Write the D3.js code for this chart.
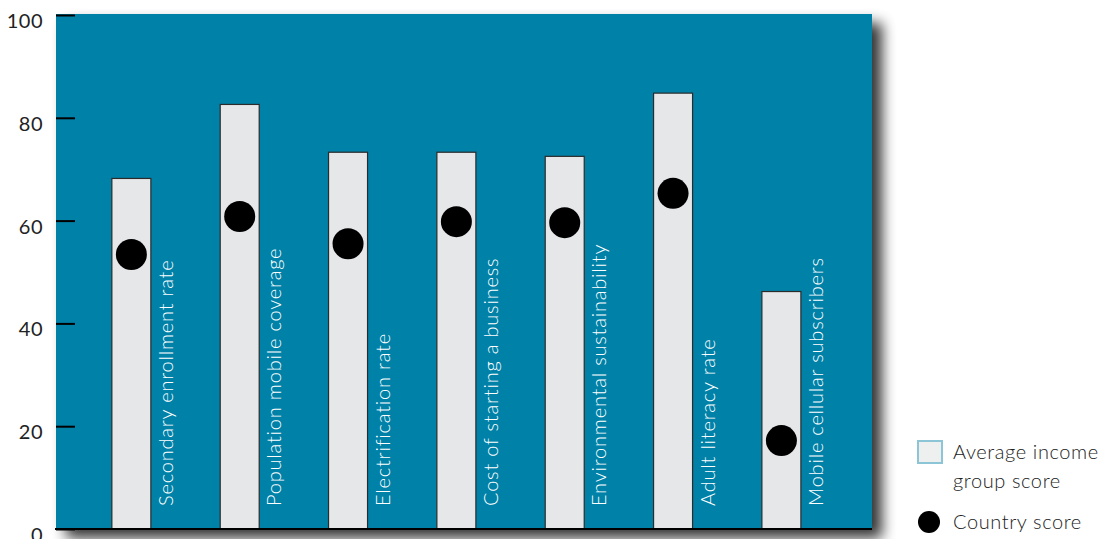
<!DOCTYPE html>
<html>
<head>
<meta charset="utf-8">
<script src="https://cdn.jsdelivr.net/npm/d3@7"></script>
<style>
  body { margin: 0; background: #fff; }
  svg { display: block; font-family: Lato, "Open Sans", sans-serif; }
</style>
</head>
<body>
<svg id="chart" width="1103" height="539"></svg>
<script>
// indicators
const categories = [
    "Secondary enrollment rate",
    "Population mobile coverage",
    "Electrification rate",
    "Cost of starting a business",
    "Environmental sustainability",
    "Adult literacy rate",
    "Mobile cellular subscribers"
];
const averageScores = [68.2, 82.6, 73.3, 73.3, 72.5, 84.8, 46.2];
const countryScores = [53.4, 60.8, 55.5, 59.8, 59.6, 65.3, 17.2];
const yTicks = [0, 20, 40, 60, 80, 100];

const svg = d3.select("#chart");
const plotLeft = 56, plotRight = 872, plotTop = 15, plotBottom = 529;

const y = d3.scaleLinear().domain([0, 100]).range([plotBottom, plotTop]);
const x = d3.scaleBand()
    .domain(categories)
    .range([plotLeft, plotRight])
    .paddingInner(0.64)
    .paddingOuter(0.586)
    .align(0.44);

const defs = svg.append("defs");
const shadow = defs.append("filter").attr("id", "shadow")
    .attr("x", "-5%").attr("y", "-5%").attr("width", "115%").attr("height", "115%");
shadow.append("feGaussianBlur").attr("in", "SourceAlpha").attr("stdDeviation", 7);
shadow.append("feOffset").attr("dx", 10).attr("dy", 9).attr("result", "off");
shadow.append("feComponentTransfer").append("feFuncA").attr("type", "linear").attr("slope", 0.8);
const merge = shadow.append("feMerge");
merge.append("feMergeNode");
merge.append("feMergeNode").attr("in", "SourceGraphic");

// blue panel
svg.append("rect")
    .attr("x", plotLeft).attr("y", plotTop - 1)
    .attr("width", plotRight - plotLeft).attr("height", plotBottom - plotTop + 1)
    .attr("fill", "#0081a7")
    .attr("filter", "url(#shadow)");

// y axis, ticks pointing into the panel
const yAxis = d3.axisLeft(y).tickValues(yTicks).tickSize(-19).tickPadding(13);
const gy = svg.append("g")
    .attr("transform", `translate(${plotLeft},0)`)
    .call(yAxis)
    .attr("font-family", "Lato, 'Open Sans', sans-serif")
    .attr("font-size", 20);
gy.select(".domain").remove();
gy.selectAll(".tick line").attr("stroke", "#000").attr("stroke-width", 2);
// labels sit a little below their tick in the original
gy.selectAll(".tick text")
    .attr("fill", "#222")
    .attr("dy", "0.62em")
    .style("letter-spacing", "0.5px");

// bars
svg.append("g").selectAll("rect")
    .data(categories)
    .join("rect")
    .attr("x", d => x(d))
    .attr("y", (d, i) => y(averageScores[i]))
    .attr("width", x.bandwidth())
    .attr("height", (d, i) => y(0) - y(averageScores[i]))
    .attr("fill", "#e6e7e9")
    .attr("stroke", "#2b2b2b")
    .attr("stroke-width", 1.2);

// labels beside each bar
svg.append("g").selectAll("text")
    .data(categories)
    .join("text")
    .attr("transform", d => `translate(${x(d) + x.bandwidth() + 22},${plotBottom - 23}) rotate(-90)`)
    .attr("fill", "#fff")
    .style("font-size", "20px")
    .style("font-weight", 300)
    .style("letter-spacing", "0.8px")
    .text(d => d);

// country dots
svg.append("g").selectAll("circle")
    .data(categories)
    .join("circle")
    .attr("cx", d => x(d) + x.bandwidth() / 2)
    .attr("cy", (d, i) => y(countryScores[i]))
    .attr("r", 15.5)
    .attr("fill", "#000");

// baseline
svg.append("line")
    .attr("x1", plotLeft - 1).attr("x2", plotRight)
    .attr("y1", plotBottom).attr("y2", plotBottom)
    .attr("stroke", "#000").attr("stroke-width", 2);

// legend
const legend = svg.append("g")
    .style("font-size", "20px")
    .style("font-weight", 300)
    .style("letter-spacing", "0.6px")
    .attr("fill", "#222");
legend.append("rect")
    .attr("x", 918).attr("y", 441)
    .attr("width", 24).attr("height", 22)
    .attr("fill", "#eef0f0")
    .attr("stroke", "#8cc6d6").attr("stroke-width", 2);
legend.append("text").attr("x", 953).attr("y", 459).text("Average income");
legend.append("text").attr("x", 953).attr("y", 488).text("group score");
legend.append("circle").attr("cx", 929).attr("cy", 522).attr("r", 11).attr("fill", "#000");
legend.append("text").attr("x", 953).attr("y", 529).text("Country score");
</script>
</body>
</html>
